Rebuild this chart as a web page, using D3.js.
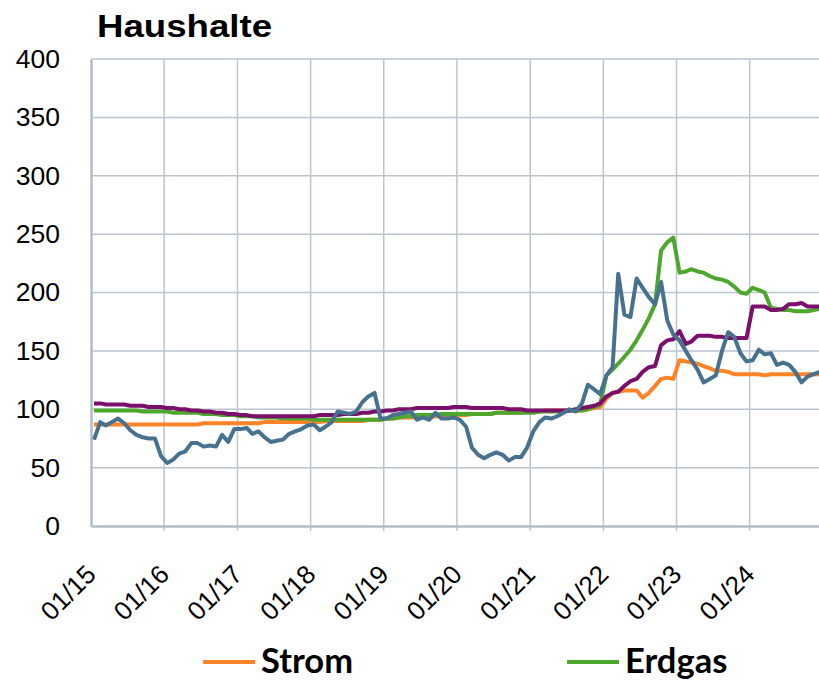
<!DOCTYPE html>
<html>
<head>
<meta charset="utf-8">
<script src="https://cdn.jsdelivr.net/npm/d3@7"></script>
<style>
  body { margin: 0; background: #fff; }
  svg { display: block; }
</style>
</head>
<body>
<script>
// monthly index values, Jan 2015 - Dec 2024
var strom = [
  87,87,87,87,87,87,87,87,87,87,87,87,
  87,87,87,87,87,87,88,88,88,88,88,88,
  88,88,88,88,89,89,89,89,89,89,89,89,
  89,89,90,90,90,90,90,90,90,91,91,91,
  92,92,93,93,93,93,93,93,94,94,94,94,
  95,95,96,96,96,96,97,97,97,97,97,98,
  98,98,99,99,99,99,99,99,99,100,101,102,
  109,114,115,116,116,116,110,114,120,126,127,126,
  142,141,140,139,137,135,133,133,132,130,130,130,
  130,130,129,130,130,130,130,130,130,130,130,130
];
var erdgas = [
  99,99,99,99,99,99,99,99,98,98,98,98,
  98,97,97,97,97,97,96,96,96,95,95,95,
  94,94,94,93,93,93,93,92,92,92,92,92,
  91,91,91,91,91,91,91,91,91,91,91,91,
  92,92,93,94,94,95,95,95,95,96,96,96,
  96,96,96,96,96,96,97,97,97,97,97,97,
  97,98,98,98,98,98,99,99,99,100,102,104,
  129,134,139,145,151,159,168,178,190,236,243,247,
  217,218,220,218,217,214,212,211,209,205,200,199,
  204,202,200,187,186,185,185,184,184,184,185,186
];
var fernwaerme = [
  105,105,104,104,104,104,103,103,103,102,102,102,
  101,101,100,100,99,99,98,98,97,97,96,96,
  95,95,94,94,94,94,94,94,94,94,94,94,
  94,95,95,95,95,96,96,96,97,97,98,98,
  99,99,100,100,100,101,101,101,101,101,101,102,
  102,102,101,101,101,101,101,101,100,100,100,99,
  99,99,99,99,99,99,99,100,101,102,103,105,
  111,114,115,120,124,126,132,136,137,155,159,160,
  167,156,158,163,163,163,162,162,161,161,161,161,
  188,188,188,185,185,186,190,190,191,188,188,188
];
var heizoel = [
  74,89,86,89,92,88,82,78,76,75,75,60,
  54,57,62,64,71,71,68,69,68,78,72,83,
  83,84,79,81,76,72,73,74,79,81,83,86,
  87,82,85,89,98,97,96,98,106,111,114,92,
  92,95,96,97,98,91,93,91,97,92,92,93,
  91,85,67,61,58,61,63,61,56,59,59,67,
  81,89,93,92,94,97,100,98,105,121,117,113,
  129,136,216,181,179,212,204,196,190,209,176,164,
  159,150,142,134,123,126,129,150,166,162,148,141,
  142,151,147,148,138,140,138,132,123,128,130,132
];
var yTicks = [0, 50, 100, 150, 200, 250, 300, 350, 400];
var xYears = [2015, 2016, 2017, 2018, 2019, 2020, 2021, 2022, 2023, 2024];

var series = [
  { name: "Strom", values: strom, color: "#ff8427" },
  { name: "Erdgas", values: erdgas, color: "#4ca72c" },
  { name: "Fernwärme", values: fernwaerme, color: "#7a0f6c" },
  { name: "Heizöl", values: heizoel, color: "#46718f" }
];
var legendItems = [
  { name: "Strom", color: "#ff8427", x: 203 },
  { name: "Erdgas", color: "#4ca72c", x: 567 }
];

var margin = { top: 59, left: 91 },
    width = 732,
    height = 467;

var svg = d3.select("body").append("svg")
    .attr("width", 819)
    .attr("height", 680);

var x = d3.scaleTime()
    .domain([new Date(2015, 0, 1), new Date(2025, 0, 1)])
    .range([margin.left, margin.left + width]);
var y = d3.scaleLinear()
    .domain([0, 400])
    .range([margin.top + height, margin.top]);

function monthDate(i) { return new Date(2015, i, 16); }

// grid
svg.append("g").selectAll("line.h")
    .data(yTicks.slice(1))
    .enter().append("line")
    .attr("x1", margin.left).attr("x2", margin.left + width)
    .attr("y1", d => y(d)).attr("y2", d => y(d))
    .attr("stroke", "#bcc5ce").attr("stroke-width", 1.5);

svg.append("g").selectAll("line.v")
    .data(xYears.slice(1))
    .enter().append("line")
    .attr("x1", d => x(new Date(d, 0, 1))).attr("x2", d => x(new Date(d, 0, 1)))
    .attr("y1", margin.top).attr("y2", margin.top + height + 5)
    .attr("stroke", "#bcc5ce").attr("stroke-width", 1.5);

// axes
var yAxis = svg.append("g")
    .attr("transform", "translate(" + margin.left + ",0)")
    .call(d3.axisLeft(y).tickValues(yTicks).tickSize(0).tickPadding(31));
yAxis.select(".domain").attr("stroke", "#b3bdc7").attr("stroke-width", 2.5);
yAxis.selectAll("text")
    .attr("font-family", "Liberation Sans, Arial, sans-serif")
    .attr("font-size", 26.5).attr("fill", "#000");

var xAxis = svg.append("g")
    .attr("transform", "translate(0," + (margin.top + height) + ")")
    .call(d3.axisBottom(x)
        .tickValues(xYears.map(d => new Date(d, 0, 1)))
        .tickFormat(d3.timeFormat("%m/%y"))
        .tickSize(0));
xAxis.select(".domain").attr("stroke", "#b3bdc7").attr("stroke-width", 2.5);
xAxis.selectAll("text")
    .attr("font-family", "Liberation Sans, Arial, sans-serif")
    .attr("font-size", 26).attr("fill", "#000")
    .attr("text-anchor", "end")
    .attr("dy", 0).attr("y", 0)
    .attr("transform", "translate(6,50) rotate(-45)");

// lines
var line = d3.line()
    .x((d, i) => x(monthDate(i)))
    .y(d => y(d));

svg.append("g").selectAll("path")
    .data(series)
    .enter().append("path")
    .attr("d", d => line(d.values))
    .attr("fill", "none")
    .attr("stroke", d => d.color)
    .attr("stroke-width", 4)
    .attr("stroke-linejoin", "round");

// title
svg.append("text")
    .attr("x", 97).attr("y", 37)
    .attr("font-family", "Liberation Sans, Arial, sans-serif")
    .attr("font-weight", "bold")
    .attr("font-size", 32)
    .attr("textLength", 175)
    .attr("lengthAdjust", "spacingAndGlyphs")
    .text("Haushalte");

// legend
var legend = svg.append("g").selectAll("g")
    .data(legendItems)
    .enter().append("g")
    .attr("transform", d => "translate(" + d.x + ",662)");
legend.append("line")
    .attr("x1", 0).attr("x2", 52)
    .attr("stroke", d => d.color).attr("stroke-width", 4);
legend.append("text")
    .attr("x", 58).attr("y", 11)
    .attr("font-family", "Lato, sans-serif")
    .attr("font-weight", "bold")
    .attr("font-size", 34.5)
    .text(d => d.name);
</script>
</body>
</html>
